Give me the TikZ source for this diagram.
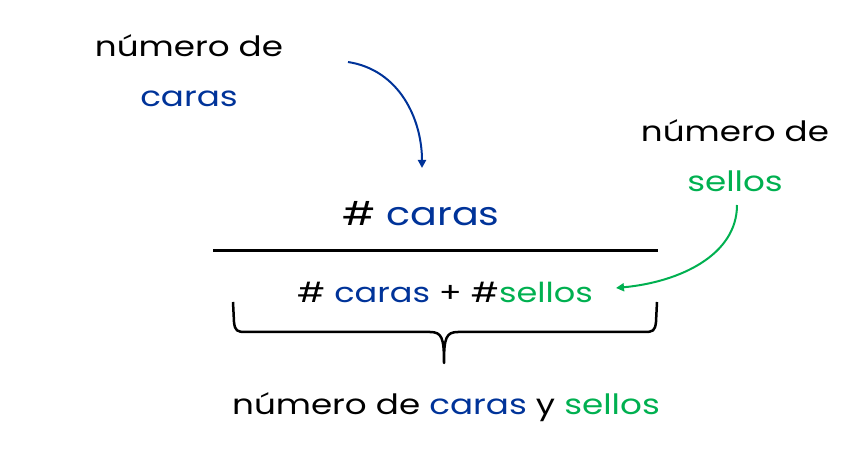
\documentclass[tikz,border=0pt]{standalone}
\usepackage{fontspec}
\setmainfont{Poppins}[FakeStretch=1.22]
\usetikzlibrary{arrows.meta}
\definecolor{cblue}{RGB}{0,51,153}
\definecolor{cgreen}{RGB}{0,176,80}
\tikzset{
  lbl/.style={inner sep=0pt, anchor=base, font=\fontsize{28}{32}\selectfont},
  den/.style={inner sep=0pt, anchor=base, font=\fontsize{27.5}{32}\selectfont},
  big/.style={inner sep=0pt, anchor=base, font=\fontsize{32.5}{36}\selectfont},
  callout/.style={line width=2pt, -{Triangle[length=8pt,width=8pt]}},
}
\begin{document}
\begin{tikzpicture}[x=1pt,y=-1pt]
\useasboundingbox (0,0) rectangle (863,457);
% labels
\node[lbl] (n1) at (189,57) {número de};
\node[lbl, text=cblue] (c1) at (189,107) {caras};
\node[lbl] (n2) at (735,142) {número de};
\node[lbl, text=cgreen] (s2) at (735,192) {sellos};
\node[big] (num) at (421,226) {\# \textcolor{cblue}{caras}};
\node[den] (den) at (445,303) {\# \textcolor{cblue}{caras} + \#\textcolor{cgreen}{sellos}};
\node[lbl] (bot) at (446,414) {número de \textcolor{cblue}{caras} y \textcolor{cgreen}{sellos}};
% fraction bar
\coordinate (fl) at (213,251);
\coordinate (fr) at (658,251);
\draw[line width=3pt] (fl) -- (fr);
% arrows
\coordinate (a1s) at (348,62);
\coordinate (a1e) at (422,168);
\draw[callout, draw=cblue] (a1s) .. controls (400,70) and (422,120) .. (a1e);
\coordinate (a2s) at (737,205);
\coordinate (a2e) at (616,288);
\draw[callout, draw=cgreen] (a2s) .. controls (737,255) and (680,282) .. (a2e);
% brace
\coordinate (bl) at (233,302);
\coordinate (br) at (657,302);
\coordinate (bt) at (444,363);
\draw[line width=2.5pt, line join=round] (bl) -- (234,322) .. controls (235,331) and (237,332) .. (246,332)
  -- (430,332) .. controls (442,332) and (444,338) .. (bt)
  .. controls (444,338) and (446,332) .. (458,332)
  -- (644,332) .. controls (653,332) and (655,331) .. (656,322) -- (br);
\end{tikzpicture}
\end{document}
